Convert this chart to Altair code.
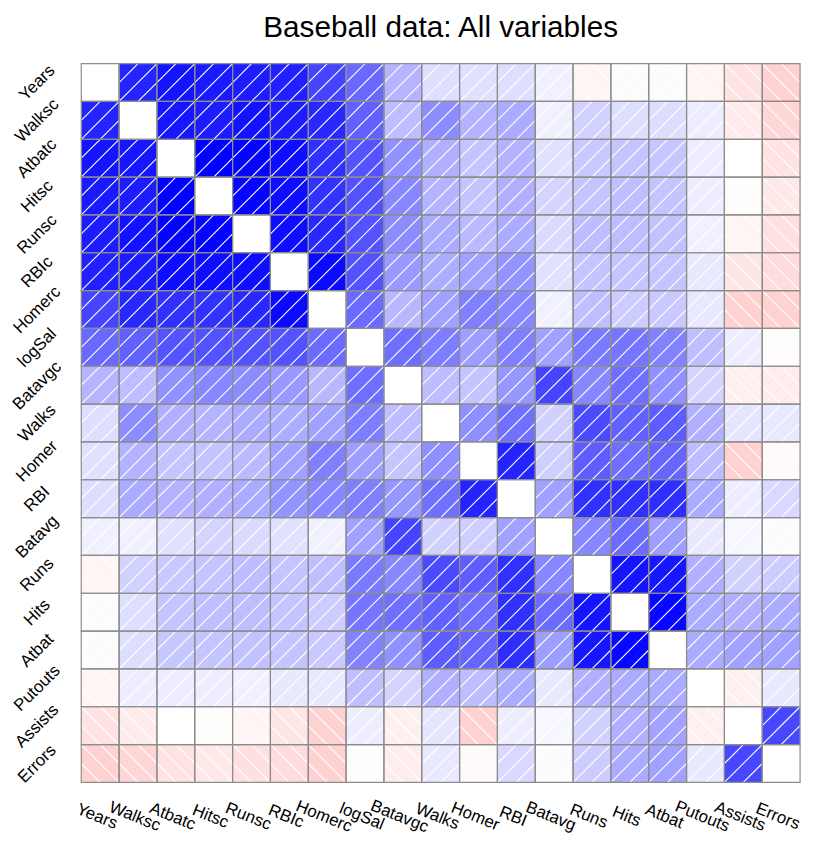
import altair as alt
import pandas as pd

names = ["Years", "Walksc", "Atbatc", "Hitsc", "Runsc", "RBIc", "Homerc", "logSal",
         "Batavgc", "Walks", "Homer", "RBI", "Batavg", "Runs", "Hits", "Atbat",
         "Putouts", "Assists", "Errors"]

# lower triangle of the correlation matrix, one list per variable (columns in the order above)
r_years = []
r_walksc = [0.86]
r_atbatc = [0.92, 0.91]
r_hitsc = [0.90, 0.89, 0.995]
r_runsc = [0.89, 0.93, 0.98, 0.98]
r_rbic = [0.87, 0.89, 0.95, 0.95, 0.95]
r_homerc = [0.73, 0.84, 0.81, 0.80, 0.84, 0.96]
r_logsal = [0.59, 0.62, 0.67, 0.68, 0.68, 0.68, 0.58]
r_batavgc = [0.29, 0.26, 0.43, 0.47, 0.45, 0.40, 0.28, 0.57]
r_walks = [0.13, 0.45, 0.31, 0.29, 0.33, 0.32, 0.37, 0.51, 0.26]
r_homer = [0.12, 0.30, 0.23, 0.23, 0.27, 0.37, 0.50, 0.38, 0.23, 0.44]
r_rbi = [0.13, 0.33, 0.30, 0.31, 0.33, 0.42, 0.47, 0.50, 0.41, 0.56, 0.86]
r_batavg = [0.06, 0.06, 0.12, 0.17, 0.14, 0.12, 0.06, 0.37, 0.73, 0.18, 0.19, 0.37]
r_runs = [-0.04, 0.18, 0.21, 0.23, 0.26, 0.23, 0.25, 0.52, 0.47, 0.71, 0.63, 0.81, 0.47]
r_hits = [0.01, 0.13, 0.23, 0.25, 0.26, 0.23, 0.20, 0.54, 0.57, 0.62, 0.57, 0.81, 0.58, 0.92]
r_atbat = [0.01, 0.13, 0.22, 0.23, 0.24, 0.23, 0.21, 0.49, 0.43, 0.64, 0.60, 0.82, 0.38, 0.91, 0.97]
r_putouts = [-0.04, 0.07, 0.07, 0.07, 0.06, 0.09, 0.09, 0.25, 0.17, 0.31, 0.26, 0.33, 0.09, 0.31, 0.33, 0.33]
r_assists = [-0.11, -0.08, 0.00, -0.01, -0.04, -0.10, -0.18, 0.07, -0.06, 0.10, -0.18, 0.07, 0.03, 0.18, 0.31, 0.36, -0.06]
r_errors = [-0.18, -0.16, -0.11, -0.09, -0.12, -0.14, -0.18, -0.01, -0.07, 0.09, -0.02, 0.15, 0.01, 0.20, 0.33, 0.37, 0.09, 0.72]

lower = [r_years, r_walksc, r_atbatc, r_hitsc, r_runsc, r_rbic, r_homerc, r_logsal,
         r_batavgc, r_walks, r_homer, r_rbi, r_batavg, r_runs, r_hits, r_atbat,
         r_putouts, r_assists, r_errors]

n = len(names)
hatch_offsets = [-0.5, 0.0, 0.5]

cells, diag, lines = [], [], []
for i in range(n):
    for j in range(n):
        base = dict(x0=j, x1=j + 1, y0=i, y1=i + 1, row=names[i], col=names[j])
        if i == j:
            diag.append(base)
            continue
        r = lower[max(i, j)][min(i, j)]
        cells.append(dict(base, r=r))
        for c in hatch_offsets:
            if r >= 0:
                u0, u1 = max(0.0, -c), min(1.0, 1.0 - c)
                v0, v1 = u0 + c, u1 + c
            else:
                u0, u1 = max(0.0, c), min(1.0, 1.0 + c)
                v0, v1 = 1.0 - u0 + c, 1.0 - u1 + c
            if u1 - u0 > 1e-9:
                lines.append(dict(x0=j + u0, x1=j + u1, y0=i + 1 - v0, y1=i + 1 - v1))

cells_df = pd.DataFrame(cells)
diag_df = pd.DataFrame(diag)
lines_df = pd.DataFrame(lines)

label_expr = "[" + ",".join("'%s'" % s for s in names) + "][floor(datum.value)]"
x_label_pos = [k + 0.4 for k in range(n)]
y_label_pos = [k + 0.5 for k in range(n)]

font = "Liberation Sans"
xscale = alt.Scale(domain=[0, n], nice=False, zero=False)
yscale = alt.Scale(domain=[0, n], nice=False, zero=False, reverse=True)

xaxis = alt.Axis(values=x_label_pos, labelExpr=label_expr, title=None, ticks=False, domain=False,
                 grid=False, labelAngle=22, labelAlign="center", labelBaseline="middle",
                 labelPadding=34, labelFontSize=17, labelFont=font,
                 labelColor="black", labelOverlap=False, labelFlush=False, labelBound=False)
yaxis = alt.Axis(values=y_label_pos, labelExpr=label_expr, title=None, ticks=False, domain=False,
                 grid=False, labelAngle=-45, labelAlign="center", labelBaseline="middle",
                 labelPadding=45, labelFontSize=17, labelFont=font, labelColor="black",
                 labelOverlap=False, labelFlush=False, labelBound=False)

fills = alt.Chart(cells_df).mark_rect(strokeWidth=0).encode(
    x=alt.X("x0:Q", scale=xscale, axis=xaxis),
    x2="x1:Q",
    y=alt.Y("y0:Q", scale=yscale, axis=yaxis),
    y2="y1:Q",
    color=alt.Color("r:Q", legend=None,
                    scale=alt.Scale(domain=[-1, 0, 1], range=["#FF0000", "#FFFFFF", "#0000FF"],
                                    interpolate="rgb")),
)

diag_fill = alt.Chart(diag_df).mark_rect(fill="white", strokeWidth=0).encode(
    x="x0:Q", x2="x1:Q", y="y0:Q", y2="y1:Q"
)

hatch = alt.Chart(lines_df).mark_rule(color="white", strokeWidth=1.1).encode(
    x="x0:Q", x2="x1:Q", y="y0:Q", y2="y1:Q"
)

all_cells = pd.concat([cells_df[["x0", "x1", "y0", "y1"]], diag_df[["x0", "x1", "y0", "y1"]]])
borders = alt.Chart(all_cells).mark_rect(fillOpacity=0, stroke="#8c8c8c", strokeWidth=1.2).encode(
    x="x0:Q", x2="x1:Q", y="y0:Q", y2="y1:Q"
)

chart = alt.layer(fills, diag_fill, hatch, borders).properties(
    width=726,
    height=726,
    title=alt.TitleParams("Baseball data: All variables", fontSize=30, font=font,
                          fontWeight="normal", anchor="middle", frame="group",
                          offset=18, color="black"),
    autosize=alt.AutoSizeParams(type="none"),
    padding={"left": 74, "top": 52, "right": 6, "bottom": 56},
).configure_view(stroke=None)

chart.save("out.html", embed_options={"renderer": "svg", "actions": False})
